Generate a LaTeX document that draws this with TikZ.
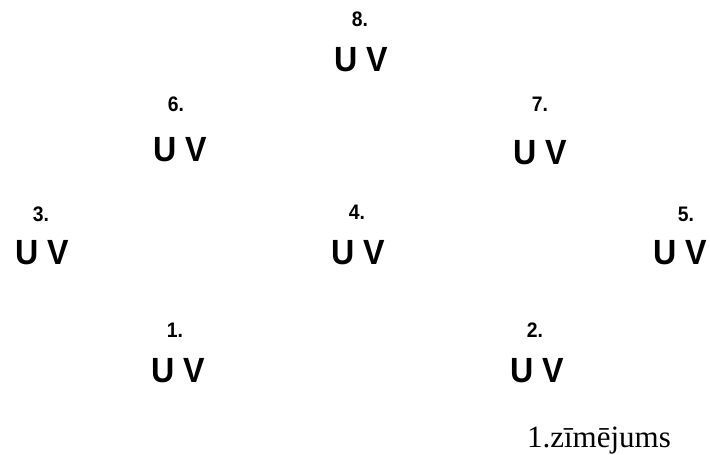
\documentclass[tikz,border=0pt]{standalone}
\usepackage{fontspec}
\setmainfont{Liberation Serif}
\newfontfamily\narrowsans[FakeStretch=0.92]{Liberation Sans}
\usepackage{tikz}
\usetikzlibrary{positioning}

\tikzset{
  pair/.style={font=\narrowsans\bfseries\fontsize{35}{35}\selectfont, anchor=base, inner sep=0pt},
  num/.style={font=\narrowsans\bfseries\fontsize{21}{21}\selectfont, anchor=base, inner sep=0pt},
}

\begin{document}
\begin{tikzpicture}[x=1pt, y=1pt]
\useasboundingbox (0,0) rectangle (710,455);

% Top
\node[num] (n8) at (360,428) {8.};
\node[pair] (uv8) at (361.5,383) {U V};

% Second row
\node[num] (n6) at (176,343) {6.};
\node[pair] (uv6) at (180,293) {U V};
\node[num] (n7) at (540,343) {7.};
\node[pair] (uv7) at (540,290) {U V};

% Middle row
\node[num] (n3) at (41,233) {3.};
\node[pair] (uv3) at (42,190) {U V};
\node[num] (n4) at (357,235) {4.};
\node[pair] (uv4) at (358,190) {U V};
\node[num] (n5) at (686,233) {5.};
\node[pair] (uv5) at (680,190) {U V};

% Bottom row
\node[num] (n1) at (175,117) {1.};
\node[pair] (uv1) at (178,72) {U V};
\node[num] (n2) at (535,117) {2.};
\node[pair] (uv2) at (537,72) {U V};

% Caption
\node[anchor=base, inner sep=0pt, font=\fontsize{31}{31}\selectfont] (caption) at (599,7) {1.zīmējums};
\end{tikzpicture}
\end{document}
